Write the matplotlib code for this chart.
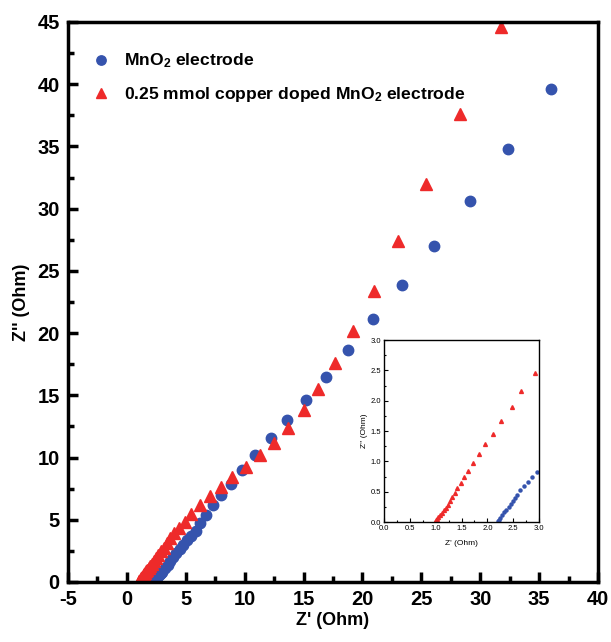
import numpy as np
import matplotlib
matplotlib.use("Agg")
import matplotlib.pyplot as plt
from matplotlib.ticker import MultipleLocator, FormatStrFormatter

plt.rcParams['font.family'] = ['Liberation Sans', 'DejaVu Sans']
plt.rcParams['mathtext.fontset'] = 'custom'
plt.rcParams['mathtext.rm'] = 'Liberation Sans:bold'
plt.rcParams['mathtext.default'] = 'rm'
plt.rcParams['axes.unicode_minus'] = False

# MnO2 electrode (blue circles)
x_mno2 = [2.20, 2.22, 2.25, 2.29, 2.33, 2.37, 2.41, 2.45, 2.49, 2.53, 2.58, 2.64,
          2.70, 2.78, 2.87, 2.96, 3.20, 3.45, 3.70, 3.95, 4.20, 4.50, 4.80, 5.10,
          5.45, 5.85, 6.20, 6.70, 7.30, 7.95, 8.80, 9.80, 10.85, 12.2, 13.6, 15.2,
          16.9, 18.8, 20.9, 23.4, 26.1, 29.1, 32.4, 36.0]
y_mno2 = [0.01, 0.04, 0.07, 0.115, 0.16, 0.20, 0.25, 0.30, 0.34, 0.395, 0.45, 0.52,
          0.59, 0.66, 0.75, 0.83, 1.10, 1.40, 1.70, 2.00, 2.30, 2.65, 3.00, 3.35,
          3.70, 4.10, 4.70, 5.40, 6.20, 7.00, 7.90, 9.00, 10.2, 11.6, 13.0, 14.6,
          16.5, 18.6, 21.1, 23.9, 27.0, 30.6, 34.8, 39.6]

# 0.25 mmol copper doped MnO2 electrode (red triangles)
x_cu = [0.99, 1.005, 1.02, 1.05, 1.08, 1.12, 1.16, 1.20, 1.24, 1.275, 1.32, 1.37,
        1.42, 1.49, 1.55, 1.63, 1.73, 1.835, 1.96, 2.11, 2.27, 2.47, 2.66, 2.92,
        3.15, 3.40, 3.70, 4.00, 4.40, 4.90, 5.45, 6.20, 7.05, 8.00, 8.95, 10.1,
        11.3, 12.5, 13.7, 15.0, 16.25, 17.7, 19.2, 21.0, 23.0, 25.4, 28.3, 31.8]
y_cu = [0.005, 0.027, 0.05, 0.077, 0.11, 0.15, 0.19, 0.23, 0.285, 0.34, 0.41, 0.48,
        0.56, 0.64, 0.735, 0.845, 0.98, 1.12, 1.28, 1.45, 1.66, 1.89, 2.16, 2.45,
        2.75, 3.10, 3.50, 3.90, 4.35, 4.85, 5.45, 6.20, 6.90, 7.65, 8.40, 9.20,
        10.2, 11.2, 12.4, 13.8, 15.5, 17.6, 20.2, 23.4, 27.4, 32.0, 37.6, 44.6]

blue = '#3553ad'
red = '#ee2a2a'

fig = plt.figure(figsize=(6.11, 6.42), dpi=100)
ax = fig.add_axes([0.1113, 0.0935, 0.8674, 0.8723])

ax.plot(x_mno2, y_mno2, 'o', color=blue, ms=7.5, mec=blue, label=r'MnO$_2$ electrode')
ax.plot(x_cu, y_cu, '^', color=red, ms=8.5, mec=red,
        label=r'0.25 mmol copper doped MnO$_2$ electrode')

ax.set_xlim(-5, 40)
ax.set_ylim(0, 45)
ax.xaxis.set_major_locator(MultipleLocator(5))
ax.xaxis.set_minor_locator(MultipleLocator(2.5))
ax.yaxis.set_major_locator(MultipleLocator(5))
ax.yaxis.set_minor_locator(MultipleLocator(2.5))
ax.tick_params(which='both', direction='in', width=2.5, top=False, right=False)
ax.tick_params(which='major', length=7, labelsize=14.5, pad=6)
ax.tick_params(which='minor', length=4)
for lab in ax.get_xticklabels() + ax.get_yticklabels():
    lab.set_fontweight('bold')
for sp in ax.spines.values():
    sp.set_linewidth(2.5)

ax.set_xlabel("Z' (Ohm)", fontsize=13, fontweight='bold', labelpad=2)
ax.set_ylabel("Z'' (Ohm)", fontsize=13, fontweight='bold', labelpad=5)

leg = ax.legend(loc='upper left', bbox_to_anchor=(0.0, 0.975), frameon=False,
                handletextpad=0.3, labelspacing=0.85, markerscale=0.9,
                prop={'size': 12.6, 'weight': 'bold'})

# inset
ins = fig.add_axes([0.6285, 0.1869, 0.2537, 0.2835])
ins.plot(x_mno2, y_mno2, 'o', color=blue, ms=2.2, mec=blue)
ins.plot(x_cu, y_cu, '^', color=red, ms=2.8, mec=red)
ins.set_xlim(0, 3)
ins.set_ylim(0, 3)
ins.xaxis.set_major_locator(MultipleLocator(0.5))
ins.xaxis.set_minor_locator(MultipleLocator(0.25))
ins.yaxis.set_major_locator(MultipleLocator(0.5))
ins.yaxis.set_minor_locator(MultipleLocator(0.25))
ins.tick_params(which='both', direction='in', width=0.8, top=False, right=False,
                labelsize=5.5, pad=2)
ins.tick_params(which='major', length=3)
ins.tick_params(which='minor', length=1.5)
ins.xaxis.set_major_formatter(FormatStrFormatter('%.1f'))
ins.yaxis.set_major_formatter(FormatStrFormatter('%.1f'))
for sp in ins.spines.values():
    sp.set_linewidth(1)
ins.set_xlabel("Z' (Ohm)", fontsize=6, labelpad=6)
ins.set_ylabel("Z'' (Ohm)", fontsize=6, labelpad=2)

fig.savefig('out.png', dpi=100)
